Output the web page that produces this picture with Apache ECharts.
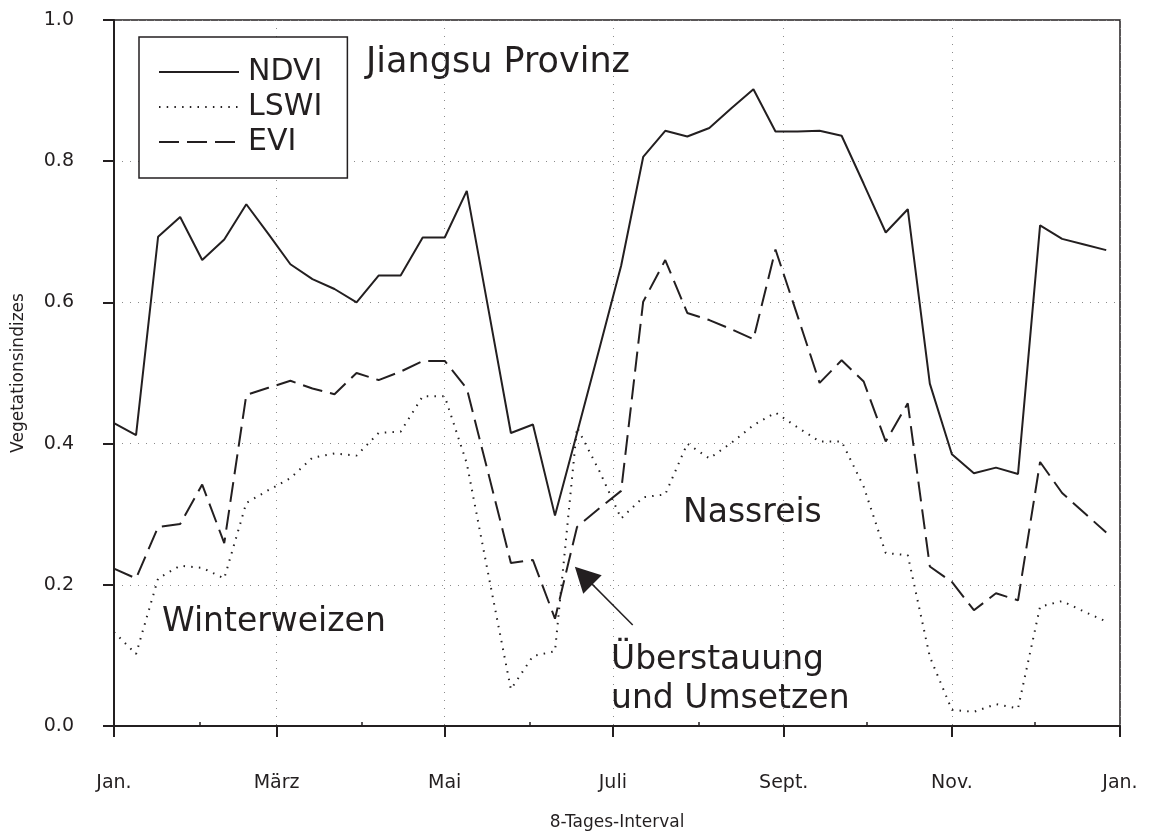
<!DOCTYPE html>
<html><head><meta charset="utf-8">
<script src="https://cdn.jsdelivr.net/npm/echarts@6/dist/echarts.min.js"></script>
<style>html,body{margin:0;padding:0;background:#fff}#c{width:1149px;height:834px}</style>
</head><body><div id="c"></div>
<script>
// 8-day composite start days (day of year)
const days = [1,9,17,25,33,41,49,57,65,73,81,89,97,105,113,121,129,137,145,153,161,169,177,185,193,201,209,217,225,233,241,249,257,265,273,281,289,297,305,313,321,329,337,345,353,361];
const ndvi = [0.429,0.412,0.693,0.721,0.660,0.689,0.739,0.697,0.654,0.633,0.619,0.600,0.638,0.638,0.692,0.692,0.758,0.587,0.415,0.427,0.298,0.415,0.533,0.652,0.806,0.843,0.835,0.847,0.875,0.902,0.842,0.842,0.843,0.836,0.768,0.699,0.732,0.485,0.385,0.358,0.366,0.357,0.709,0.690,0.682,0.674];
const lswi = [0.133,0.102,0.209,0.227,0.224,0.209,0.316,0.334,0.351,0.380,0.386,0.383,0.415,0.417,0.467,0.467,0.372,0.211,0.052,0.099,0.106,0.423,0.362,0.294,0.324,0.328,0.400,0.379,0.401,0.426,0.444,0.423,0.403,0.403,0.339,0.245,0.242,0.098,0.023,0.020,0.031,0.025,0.169,0.177,0.162,0.148];
const evi = [0.223,0.209,0.282,0.286,0.342,0.259,0.469,0.479,0.489,0.478,0.470,0.500,0.490,0.502,0.517,0.517,0.478,0.355,0.231,0.235,0.152,0.282,0.308,0.333,0.601,0.660,0.585,0.575,0.562,0.548,0.675,0.581,0.486,0.518,0.488,0.403,0.457,0.226,0.204,0.164,0.188,0.178,0.374,0.330,0.302,0.274];
const monthTicks = [1,60,121,182,244,305,366];
const monthLabels = ['Jan.','März','Mai','Juli','Sept.','Nov.','Jan.'];
const minorMonthTicks = [32,91,152,213,274,335];
const seriesNames = ['NDVI','LSWI','EVI'];
const arrowFrom = [189.2, 0.143];
const arrowTo = [171.4, 0.213];

const INK = '#231f20';
const FONT = 'DejaVu Sans';
const chart = echarts.init(document.getElementById('c'), null, {renderer:'canvas'});
const zip = arr => days.map((d,i)=>[d, arr[i]]);

chart.setOption({
  animation: false,
  textStyle: {fontFamily: FONT, color: INK},
  grid: {left: 114, right: 29, top: 20, bottom: 108, show: true, borderColor: INK, borderWidth: 1.5,
    containLabel: false, outerBoundsMode: 'none'},
  legend: {
    data: seriesNames, orient: 'vertical', left: 139, top: 37,
    itemWidth: 80, itemHeight: 14, itemGap: 5, selectedMode: false,
    padding: [20, 25, 21, 19], borderColor: INK, borderWidth: 1.5, backgroundColor: '#fff',
    textStyle: {fontFamily: FONT, fontSize: 30, color: INK, lineHeight: 30, padding: [0,0,0,4]},
    lineStyle: {width: 2},
    itemStyle: {opacity: 0}
  },
  xAxis: [{
    type: 'value', min: 1, max: 366,
    name: '8-Tages-Interval', nameLocation: 'middle', nameGap: 88,
    nameTextStyle: {fontFamily: FONT, fontSize: 17, color: INK},
    axisLine: {show: true, lineStyle: {color: INK, width: 2}},
    axisTick: {show: true, inside: false, length: 11, customValues: monthTicks, lineStyle: {color: INK, width: 2}},
    axisLabel: {show: true, customValues: monthTicks, margin: 48, fontSize: 19, color: INK, fontFamily: FONT,
      formatter: v => { const k = monthTicks.indexOf(v); return k >= 0 ? monthLabels[k] : ''; }},
    splitLine: {show: true, lineStyle: {color: '#8a8a8a', width: 1, type: [1, 7]}}
  }, {
    type: 'value', min: 1, max: 366, position: 'bottom',
    axisLine: {show: false}, axisLabel: {show: false}, splitLine: {show: false},
    axisTick: {show: true, inside: true, length: 4, customValues: minorMonthTicks, lineStyle: {color: INK, width: 1.5}}
  }],
  yAxis: {
    type: 'value', min: 0, max: 1, interval: 0.2,
    name: 'Vegetationsindizes', nameLocation: 'middle', nameGap: 87,
    nameTextStyle: {fontFamily: FONT, fontSize: 17, color: INK},
    axisLine: {show: true, lineStyle: {color: INK, width: 2}},
    axisTick: {show: true, inside: false, length: 11, lineStyle: {color: INK, width: 2}},
    axisLabel: {margin: 40, fontSize: 19, color: INK, fontFamily: FONT, formatter: v => v.toFixed(1)},
    splitLine: {show: true, lineStyle: {color: '#8a8a8a', width: 1, type: [1, 7]}}
  },
  series: [{
    name: 'NDVI', type: 'line', data: zip(ndvi), symbol: 'none', showSymbol: false,
    lineStyle: {color: INK, width: 2, type: 'solid'}, itemStyle: {color: INK},
    markLine: {silent: true, symbol: ['none','triangle'], symbolSize: [26, 25],
      lineStyle: {type: 'solid', color: INK, width: 1.5}, itemStyle: {color: INK},
      label: {show: false}, emphasis: {disabled: true},
      data: [[{coord: arrowFrom}, {coord: arrowTo}]]}
  }, {
    name: 'LSWI', type: 'line', data: zip(lswi), symbol: 'none', showSymbol: false,
    lineStyle: {color: INK, width: 2, type: [1.5, 6.2]}, itemStyle: {color: INK}
  }, {
    name: 'EVI', type: 'line', data: zip(evi), symbol: 'none', showSymbol: false,
    lineStyle: {color: INK, width: 2, type: [20, 8]}, itemStyle: {color: INK}
  }],
  graphic: [
    {type: 'text', style: {x: 366, y: 63, text: 'Jiangsu Provinz', font: '35px "DejaVu Sans"', fill: INK, verticalAlign: 'middle'}},
    {type: 'text', style: {x: 162, y: 622, text: 'Winterweizen', font: '33px "DejaVu Sans"', fill: INK, verticalAlign: 'middle'}},
    {type: 'text', style: {x: 683, y: 513, text: 'Nassreis', font: '33px "DejaVu Sans"', fill: INK, verticalAlign: 'middle'}},
    {type: 'text', style: {x: 611, y: 660, text: 'Überstauung', font: '33px "DejaVu Sans"', fill: INK, verticalAlign: 'middle'}},
    {type: 'text', style: {x: 611, y: 699, text: 'und Umsetzen', font: '33px "DejaVu Sans"', fill: INK, verticalAlign: 'middle'}}
  ]
});
</script></body></html>
